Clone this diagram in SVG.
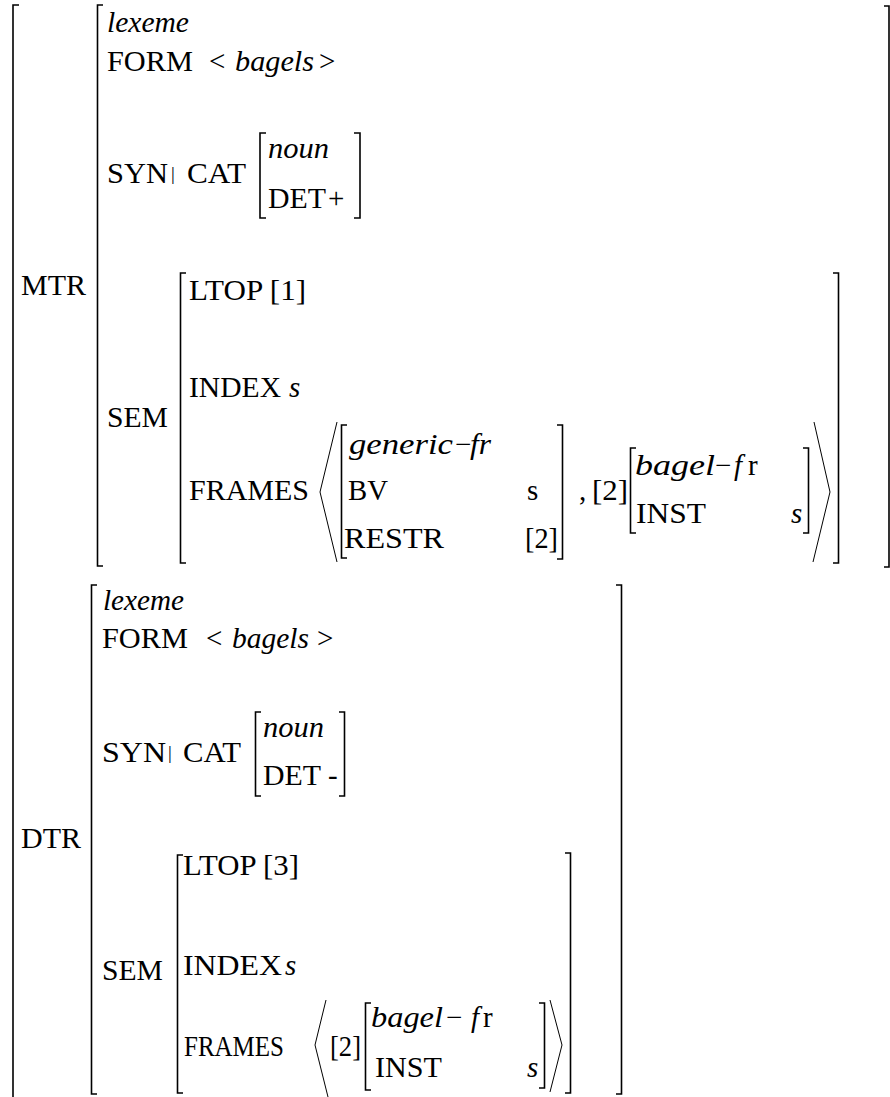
<svg xmlns="http://www.w3.org/2000/svg" width="890" height="1097" viewBox="0 0 890 1097">
<style>
.t{font-family:"Liberation Serif","Times New Roman",serif;font-size:29px;fill:#000}
.i{font-style:italic}
.bar{font-size:19px}
.b{fill:none;stroke:#000;stroke-width:1.6}
.a{fill:none;stroke:#000;stroke-width:1}
</style>
<rect width="890" height="1097" fill="#fff"/>
<g id="outer">
<path class="b" d="M19 5H13V1097"/>
</g>
<g id="mtr">
<text class="t" x="21" y="295" textLength="65" lengthAdjust="spacingAndGlyphs">MTR</text>
<path class="b" d="M103 5H97.5V566H103"/>
<path class="b" d="M884 6H889V567H884"/>
<text class="t i" x="107" y="32" textLength="82" lengthAdjust="spacingAndGlyphs">lexeme</text>
<text class="t" x="107" y="71" textLength="86" lengthAdjust="spacingAndGlyphs">FORM</text>
<text class="t" x="209" y="71">&lt;</text>
<text class="t i" x="235" y="71" textLength="79" lengthAdjust="spacingAndGlyphs">bagels</text>
<text class="t" x="319" y="71">&gt;</text>
<text class="t" x="107" y="183" textLength="61" lengthAdjust="spacingAndGlyphs">SYN</text>
<text class="t bar" x="171" y="180">|</text>
<text class="t" x="187" y="183" textLength="59" lengthAdjust="spacingAndGlyphs">CAT</text>
<path class="b" d="M266 133H260V218H266"/>
<path class="b" d="M354 133H360V218H354"/>
<text class="t i" x="268" y="158" textLength="61" lengthAdjust="spacingAndGlyphs">noun</text>
<text class="t" x="268" y="208" textLength="58" lengthAdjust="spacingAndGlyphs">DET</text>
<text class="t" x="328" y="208">+</text>
<g id="mtr-sem">
<text class="t" x="107" y="427" textLength="61" lengthAdjust="spacingAndGlyphs">SEM</text>
<path class="b" d="M186 273H180.5V563H186"/>
<path class="b" d="M833 273H838.5V563H833"/>
<text class="t" x="189" y="300" textLength="117" lengthAdjust="spacingAndGlyphs">LTOP [1]</text>
<text class="t" x="189" y="397" textLength="92" lengthAdjust="spacingAndGlyphs">INDEX</text>
<text class="t i" x="289" y="397">s</text>
<text class="t" x="189" y="500" textLength="120" lengthAdjust="spacingAndGlyphs">FRAMES</text>
<path class="a" d="M337 422L320 492L337 562"/>
<path class="b" d="M347 425H341.5V558H347"/>
<path class="b" d="M557 425H562.5V559H557"/>
<text class="t i" x="349" y="454" textLength="104" lengthAdjust="spacingAndGlyphs">generic</text>
<text class="t" x="455" y="454">−</text>
<text class="t i" x="470" y="454" textLength="21" lengthAdjust="spacingAndGlyphs">fr</text>
<text class="t" x="348" y="500" textLength="40" lengthAdjust="spacingAndGlyphs">BV</text>
<text class="t" x="527" y="500">s</text>
<text class="t" x="344" y="548" textLength="100" lengthAdjust="spacingAndGlyphs">RESTR</text>
<text class="t" x="525" y="548" textLength="33" lengthAdjust="spacingAndGlyphs">[2]</text>
<text class="t" x="579" y="500">,</text>
<text class="t" x="592" y="500" textLength="36" lengthAdjust="spacingAndGlyphs">[2]</text>
<path class="b" d="M636 448H630.5V533H636"/>
<path class="b" d="M803 448H808.5V533H803"/>
<text class="t i" x="635" y="475" textLength="80" lengthAdjust="spacingAndGlyphs">bagel</text>
<text class="t" x="715" y="475">−</text>
<text class="t i" x="734" y="475">f</text>
<text class="t" x="748" y="475">r</text>
<text class="t" x="636" y="523" textLength="70" lengthAdjust="spacingAndGlyphs">INST</text>
<text class="t i" x="791" y="523">s</text>
<path class="a" d="M814 422L830 492L813 562"/>
</g>
</g>
<g id="dtr">
<text class="t" x="21" y="848" textLength="60" lengthAdjust="spacingAndGlyphs">DTR</text>
<path class="b" d="M97 585H91.5V1094H97"/>
<path class="b" d="M616 585H621.5V1094H616"/>
<text class="t i" x="103" y="610" textLength="81" lengthAdjust="spacingAndGlyphs">lexeme</text>
<text class="t" x="102" y="648" textLength="86" lengthAdjust="spacingAndGlyphs">FORM</text>
<text class="t" x="206" y="648">&lt;</text>
<text class="t i" x="232" y="648" textLength="77" lengthAdjust="spacingAndGlyphs">bagels</text>
<text class="t" x="317" y="648">&gt;</text>
<text class="t" x="102" y="762" textLength="64" lengthAdjust="spacingAndGlyphs">SYN</text>
<text class="t bar" x="168" y="759">|</text>
<text class="t" x="183" y="762" textLength="58" lengthAdjust="spacingAndGlyphs">CAT</text>
<path class="b" d="M261 712H255.5V796H261"/>
<path class="b" d="M339 712H344.5V796H339"/>
<text class="t i" x="263" y="737" textLength="61" lengthAdjust="spacingAndGlyphs">noun</text>
<text class="t" x="263" y="785" textLength="58" lengthAdjust="spacingAndGlyphs">DET</text>
<text class="t" x="328" y="785">-</text>
<g id="dtr-sem">
<text class="t" x="102" y="980" textLength="61" lengthAdjust="spacingAndGlyphs">SEM</text>
<path class="b" d="M183 855H177.5V1093H183"/>
<path class="b" d="M565 853H570.5V1093H565"/>
<text class="t" x="183" y="875" textLength="116" lengthAdjust="spacingAndGlyphs">LTOP [3]</text>
<text class="t" x="183" y="975" textLength="99" lengthAdjust="spacingAndGlyphs">INDEX</text>
<text class="t i" x="285" y="975">s</text>
<text class="t" x="184" y="1056" textLength="100" lengthAdjust="spacingAndGlyphs">FRAMES</text>
<path class="a" d="M326 1000L315 1045L328 1097"/>
<text class="t" x="330" y="1056" textLength="31" lengthAdjust="spacingAndGlyphs">[2]</text>
<path class="b" d="M371 1003H365.5V1090H371"/>
<path class="b" d="M539 1003H544.5V1088H539"/>
<text class="t i" x="371" y="1027" textLength="72" lengthAdjust="spacingAndGlyphs">bagel</text>
<text class="t" x="446" y="1027">−</text>
<text class="t i" x="471" y="1027">f</text>
<text class="t" x="483" y="1027">r</text>
<text class="t" x="375" y="1077" textLength="67" lengthAdjust="spacingAndGlyphs">INST</text>
<text class="t i" x="527" y="1077">s</text>
<path class="a" d="M550 1000L562 1045L550 1092"/>
</g>
</g>
</svg>
